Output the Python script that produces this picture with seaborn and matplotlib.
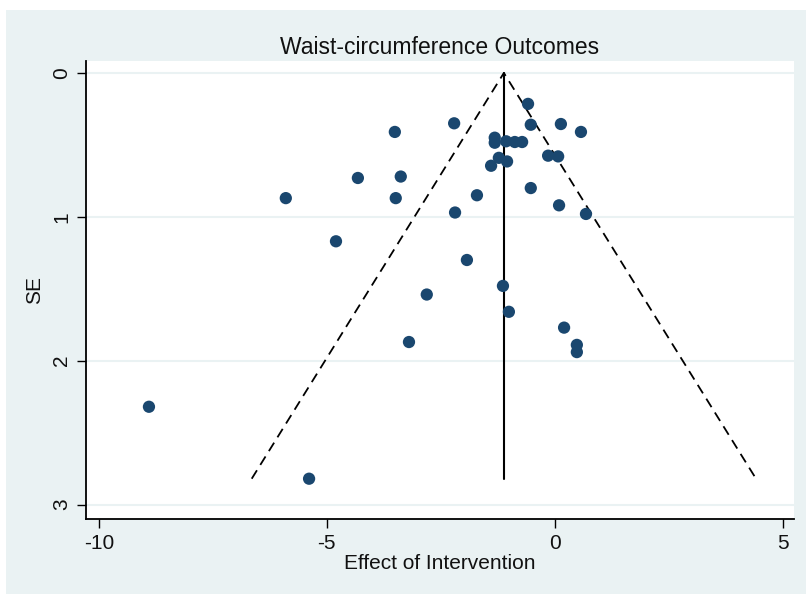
import matplotlib
matplotlib.use("Agg")
import matplotlib.pyplot as plt
from matplotlib.patches import Rectangle
import numpy as np
import pandas as pd
import seaborn as sns

# Study-level effects and their standard errors
effect = [-0.59, -0.53, 0.13, 0.57, -3.51, -2.21, -1.32, -1.32, -1.07, -0.88,
          -0.72, -0.15, 0.07, -1.23, -1.05, -1.40, -4.32, -3.38, -0.53, -1.71,
          -3.49, -5.90, 0.09, 0.68, -2.19, -4.80, -1.93, -2.81, -1.14, -1.01,
          0.20, 0.48, 0.48, -3.20, -8.90, -5.39]
se = [0.215, 0.36, 0.355, 0.41, 0.41, 0.35, 0.45, 0.485, 0.475, 0.48,
      0.48, 0.575, 0.58, 0.59, 0.615, 0.645, 0.73, 0.72, 0.80, 0.85,
      0.87, 0.87, 0.92, 0.98, 0.97, 1.17, 1.30, 1.54, 1.48, 1.66,
      1.77, 1.89, 1.94, 1.87, 2.32, 2.82]
pooled = -1.12

x_ticks = [-10, -5, 0, 5]
y_ticks = [0, 1, 2, 3]
title = "Waist-circumference Outcomes"
x_label = "Effect of Intervention"
y_label = "SE"

df = pd.DataFrame({"effect": effect, "se": se})

sns.set_theme(style="white")
plt.rcParams["font.family"] = ["Liberation Sans", "DejaVu Sans"]
plt.rcParams["text.color"] = "#111111"
plt.rcParams["axes.labelcolor"] = "#111111"
plt.rcParams["xtick.color"] = "#111111"
plt.rcParams["ytick.color"] = "#111111"

fig = plt.figure(figsize=(8.06, 5.94), dpi=100)
fig.patch.set_facecolor("white")
bg = Rectangle((6 / 806, 0), 1 - 6 / 806, 1 - 10 / 594,
               transform=fig.transFigure, facecolor="#EAF2F3",
               edgecolor="none", zorder=-10)
fig.add_artist(bg)

ax = fig.add_axes([86 / 806, 75 / 594, 708 / 806, 458 / 594])
ax.set_zorder(1)
ax.set_facecolor("white")

# horizontal grid
for t in y_ticks:
    ax.axhline(t, color="#EAF2F3", lw=1.5, zorder=0)

# pseudo 95% confidence limits
se_max = max(se)
ax.plot([pooled - 1.96 * se_max, pooled, pooled + 1.96 * se_max],
        [se_max, 0, se_max], color="black", lw=1.3, ls=(0, (5.5, 3.5)), zorder=2)
ax.plot([pooled, pooled], [0, se_max], color="black", lw=1.5, zorder=2)

sns.scatterplot(data=df, x="effect", y="se", ax=ax, color="#1A476F",
                s=78, edgecolor="none", zorder=3, legend=False)

ax.set_xlim(-10.28, 5.24)
ax.set_ylim(3.10, -0.083)
ax.set_xticks(x_ticks)
ax.set_yticks(y_ticks)
ax.set_xticklabels([str(t) for t in x_ticks], fontsize=15)
ax.set_yticklabels([str(t) for t in y_ticks], fontsize=15, rotation=90, va="center")
ax.tick_params(axis="both", direction="out", length=6.5, width=1, color="black",
               bottom=True, left=True, pad=4)
for side in ["top", "right"]:
    ax.spines[side].set_visible(False)
for side in ["left", "bottom"]:
    ax.spines[side].set_color("black")
    ax.spines[side].set_linewidth(1.3)

ax.set_xlabel(x_label, fontsize=15, labelpad=1)
ax.set_ylabel(y_label, fontsize=15, labelpad=6)
ax.set_title(title, fontsize=16.5, pad=5)

fig.savefig("out.png", dpi=100, facecolor=fig.get_facecolor())
